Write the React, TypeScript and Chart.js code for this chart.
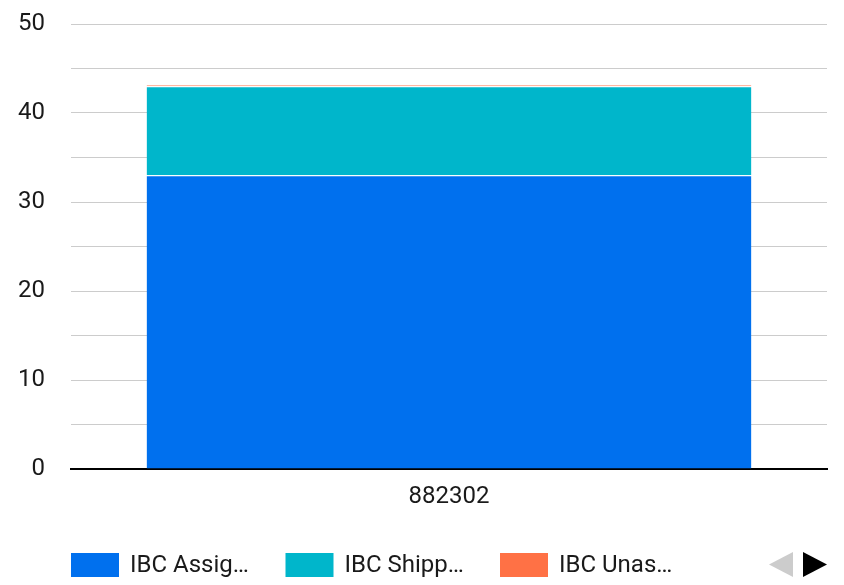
import React, { useEffect, useRef } from "react";
import { Chart, registerables } from "chart.js";

Chart.register(...registerables);

const categories = ["882302"];
const seriesNames = ["IBC Assigned", "IBC Shipped", "IBC Unassigned"];
const legendLabels = ["IBC Assig…", "IBC Shipp…", "IBC Unas…"];
const assignedValues = [33];
const shippedValues = [10];
const unassignedValues = [0.2];
const seriesColors = ["#0070ee", "#00b6cb", "#ff7145"];

const FONT = "Roboto, 'Noto Sans', sans-serif";

const legendPlugin = {
  id: "bottomLegend",
  afterDraw(chart: any) {
    const ctx = chart.ctx;
    ctx.save();
    const y = 553;
    const step = 214.5;
    chart.data.datasets.forEach((ds: any, i: number) => {
      const x = 71 + i * step;
      ctx.fillStyle = ds.backgroundColor;
      ctx.fillRect(x, y, 48, 24);
      ctx.fillStyle = "#1a1a1a";
      ctx.font = `24px ${FONT}`;
      ctx.textBaseline = "middle";
      ctx.textAlign = "left";
      ctx.fillText(legendLabels[i], x + 59, y + 13);
    });
    // pagination arrows
    ctx.fillStyle = "#cccccc";
    ctx.beginPath();
    ctx.moveTo(769, 564.5);
    ctx.lineTo(793, 552);
    ctx.lineTo(793, 577);
    ctx.closePath();
    ctx.fill();
    ctx.fillStyle = "#000000";
    ctx.beginPath();
    ctx.moveTo(803, 552);
    ctx.lineTo(827, 564.5);
    ctx.lineTo(803, 577);
    ctx.closePath();
    ctx.fill();
    ctx.restore();
  },
};

export default function App() {
  const ref = useRef<HTMLCanvasElement>(null);
  useEffect(() => {
    const chart = new Chart(ref.current!, {
      type: "bar",
      data: {
        labels: categories,
        datasets: [
          { label: seriesNames[0], data: assignedValues, backgroundColor: seriesColors[0] },
          { label: seriesNames[1], data: shippedValues, backgroundColor: seriesColors[1] },
          { label: seriesNames[2], data: unassignedValues, backgroundColor: seriesColors[2] },
        ].map((d) => ({
          ...d,
          borderColor: "#ffffff",
          borderWidth: { top: 1, left: 0, right: 0, bottom: 0 },
          borderSkipped: false,
          categoryPercentage: 0.8,
          barPercentage: 1,
        })) as any,
      },
      plugins: [legendPlugin],
      options: {
        animation: false,
        responsive: true,
        maintainAspectRatio: false,
        layout: { padding: { top: 24, left: 0, right: 17, bottom: 0 } },
        plugins: { legend: { display: false }, tooltip: { enabled: false } },
        scales: {
          x: {
            stacked: true,
            grid: { display: false, drawTicks: false },
            border: { display: true, color: "#000000", width: 2 },
            ticks: { color: "#1a1a1a", font: { family: FONT, size: 24 }, padding: 14 },
            afterFit(axis: any) {
              axis.height = 116;
              axis.paddingLeft = 0;
              axis.paddingRight = 0;
            },
          },
          y: {
            stacked: true,
            min: 0,
            max: 50,
            grid: { color: "#cccccc", lineWidth: 1, drawTicks: false },
            border: { display: false },
            ticks: {
              stepSize: 5,
              color: "#1a1a1a",
              font: { family: FONT, size: 24 },
              padding: 26,
              callback: (v: any) => (Number(v) % 10 === 0 ? String(v) : ""),
            },
            afterFit(axis: any) {
              axis.width = 71;
              axis.paddingTop = 0;
              axis.paddingBottom = 0;
            },
          },
        },
      },
    });
    return () => chart.destroy();
  }, []);
  return (
    <div style={{ position: "absolute", left: 0, top: 0, width: 844, height: 585, background: "#fff" }}>
      <canvas ref={ref} />
    </div>
  );
}
